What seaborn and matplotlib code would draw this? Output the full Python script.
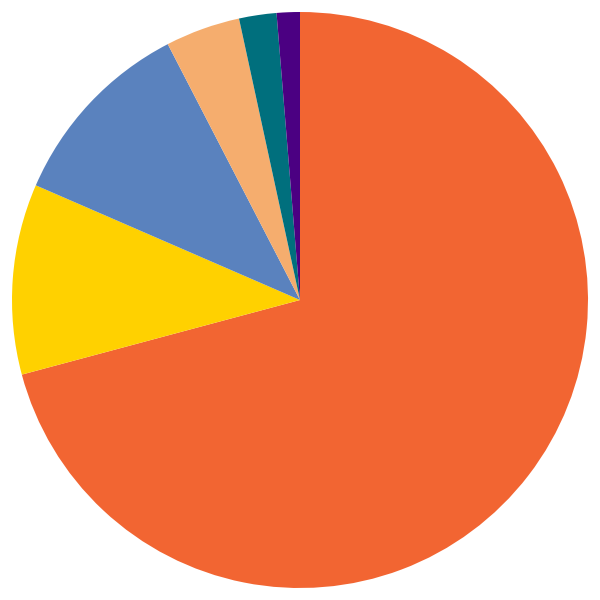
import matplotlib
matplotlib.use("Agg")
import matplotlib.pyplot as plt
import seaborn as sns

# slice shares (percent), clockwise from 12 o'clock
categories = ["A", "B", "C", "D", "E", "F"]
shares = [70.9, 10.7, 10.9, 4.2, 2.1, 1.3]
colors = ["#F26532", "#FFD100", "#5A82BE", "#F5AD6E", "#006F7D", "#4B0082"]

sns.set_style("white")

fig = plt.figure(figsize=(6, 6), dpi=100)
ax = fig.add_axes([0, 0, 1, 1])

ax.pie(shares, colors=colors, startangle=90, counterclock=False,
       wedgeprops=dict(linewidth=0))

lim = 300 / 288
ax.set_xlim(-lim, lim)
ax.set_ylim(-lim, lim)
ax.set_aspect("equal")
ax.axis("off")

fig.savefig("out.png", dpi=100, facecolor="white")
